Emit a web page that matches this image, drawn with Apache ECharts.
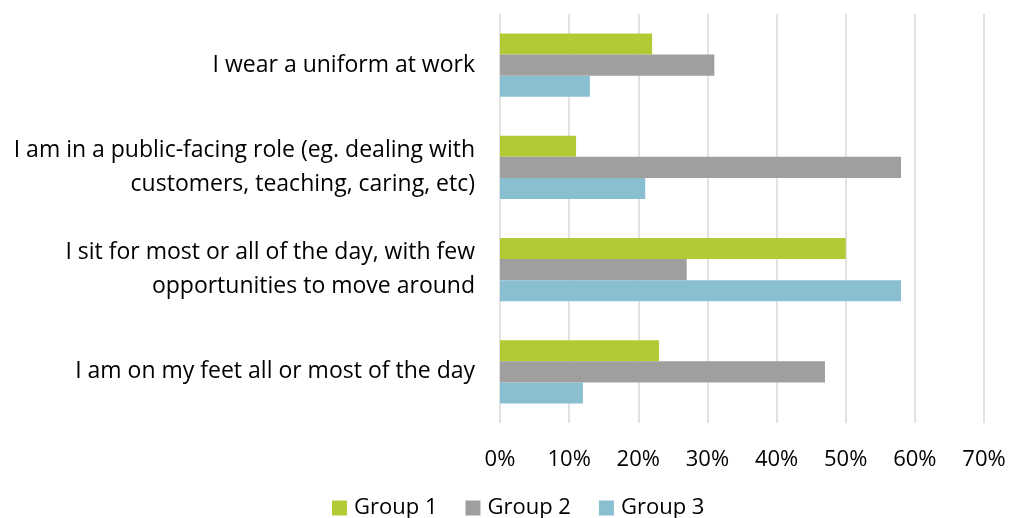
<!DOCTYPE html>
<html>
<head>
<meta charset="utf-8">
<script src="https://cdn.jsdelivr.net/npm/echarts@6/dist/echarts.min.js"></script>
<style>html,body{margin:0;padding:0;background:#fff;}#c{width:1011px;height:518px;}</style>
</head>
<body>
<div id="c"></div>
<script>
var categories = [
  "I wear a uniform at work",
  "I am in a public-facing role (eg. dealing with\ncustomers, teaching, caring, etc)",
  "I sit for most or all of the day, with few\nopportunities to move around",
  "I am on my feet all or most of the day"
];
var seriesNames = ["Group 1", "Group 2", "Group 3"];
var group1 = [22, 11, 50, 23];
var group2 = [31, 58, 27, 47];
var group3 = [13, 21, 58, 12];
var colors = ["#B0CB34", "#A09F9E", "#8ABFD2"];
var FONT = "Open Sans";

var chart = echarts.init(document.getElementById('c'), null, {renderer: 'canvas'});
var values = [group1, group2, group3];
chart.setOption({
  animation: false,
  textStyle: {fontFamily: FONT},
  grid: {left: 500, right: 27, top: 14, bottom: 95, containLabel: false},
  legend: {
    bottom: -6, left: 327,
    itemWidth: 15, itemHeight: 15, itemGap: 28,
    icon: 'rect',
    textStyle: {fontSize: 22, color: '#000', fontFamily: FONT, padding: [0, 0, 0, 2]},
    data: seriesNames
  },
  xAxis: {
    type: 'value', min: 0, max: 70, interval: 10,
    axisLabel: {formatter: '{value}%', fontSize: 22, color: '#000', margin: 26, fontFamily: FONT},
    splitLine: {lineStyle: {color: '#D9D9D9', width: 1.5}},
    axisLine: {show: false}, axisTick: {show: false}
  },
  yAxis: {
    type: 'category', inverse: true, data: categories,
    axisLine: {show: false}, axisTick: {show: false},
    axisLabel: {fontSize: 23, color: '#000', margin: 25, lineHeight: 34, align: 'right', fontFamily: FONT}
  },
  series: seriesNames.map(function(n, i){
    return {
      name: n, type: 'bar', data: values[i],
      itemStyle: {color: colors[i]},
      barGap: '0%', barCategoryGap: '38%'
    };
  })
});
</script>
</body>
</html>
